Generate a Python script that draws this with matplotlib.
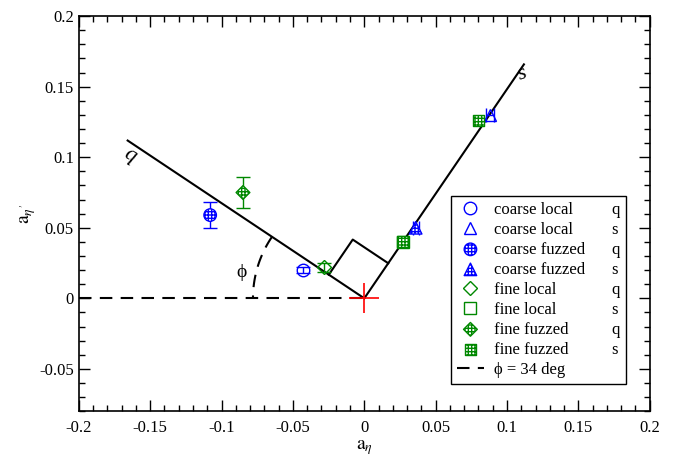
import numpy as np
import matplotlib
matplotlib.use('Agg')
import matplotlib.pyplot as plt
from matplotlib.lines import Line2D

plt.rcParams['font.family'] = ['Liberation Serif', 'DejaVu Serif']
plt.rcParams['mathtext.fontset'] = 'stix'
plt.rcParams['hatch.linewidth'] = 1.0

# mixing angle
phi_deg = 34.0

# data points: (a_eta, a_eta', yerr, xerr)
coarse_local_q = ([-0.043], [0.020], [0.002], None)
coarse_local_s = ([0.088], [0.130], None, [0.003])
coarse_fuzzed_q = ([-0.108], [0.059], [0.0095], None)
coarse_fuzzed_s = ([0.036], [0.050], None, [0.002])
fine_local_q = ([-0.028], [0.022], [0.003], None)
fine_local_s = ([0.027], [0.040], None, None)
fine_fuzzed_q = ([-0.085], [0.075], [0.011], None)
fine_fuzzed_s = ([0.080, 0.027], [0.126, 0.040], None, None)

blue = '#0000ff'
green = '#008800'

fig = plt.figure(figsize=(6.74, 4.61), dpi=100)
ax = fig.add_axes([0.117, 0.108, 0.847, 0.857])

phi = np.radians(phi_deg)
L = 0.2
# q and s axes
ax.plot([0, -L * np.cos(phi)], [0, L * np.sin(phi)], color='black', lw=1.5)
ax.plot([0, L * np.sin(phi)], [0, L * np.cos(phi)], color='black', lw=1.5)

# right angle box
d = 0.03
uq = np.array([-np.cos(phi), np.sin(phi)])
us = np.array([np.sin(phi), np.cos(phi)])
pts = np.array([d * uq, d * uq + d * us, d * us])
ax.plot(pts[:, 0], pts[:, 1], color='black', lw=1.5)

# horizontal dashed line and angle arc
ax.plot([-0.2, 0], [0, 0], color='black', lw=1.5, ls=(0, (6, 4)))
r = 0.078
t = np.linspace(np.pi - phi, np.pi, 50)
ax.plot(r * np.cos(t), r * np.sin(t), color='black', lw=1.5, ls=(0, (6, 4)))
ax.text(-0.086, 0.018, 'ϕ', fontsize=14, ha='center', va='center')
ax.text(-0.164, 0.101, 'q', fontsize=16, style='italic', rotation=-30,
        ha='center', va='center')
ax.text(0.111, 0.159, 's', fontsize=16, style='italic', rotation=20,
        ha='center', va='center')

# origin marker
ax.plot([0], [0], marker='+', color='red', ms=22, mew=1.2, ls='none', zorder=5)

def pt(data, marker, col, ms=9, hatched=False):
    x, y, ye, xe = data
    ax.errorbar(x, y, yerr=ye, xerr=xe, fmt='none', ecolor=col,
                elinewidth=1.0, capsize=5, capthick=1.0)
    if hatched:
        ax.scatter(x, y, s=ms ** 2, marker=marker, facecolor='white',
                   edgecolor=col, linewidth=1.0, hatch='+++++', zorder=3)
    else:
        ax.plot(x, y, marker=marker, mfc='none', mec=col, ms=ms, mew=1.0,
                ls='none', zorder=3)

pt(coarse_local_q, 'o', blue)
pt(coarse_local_s, '^', blue)
pt(coarse_fuzzed_q, 'o', blue, hatched=True)
pt(coarse_fuzzed_s, '^', blue, hatched=True)
pt(fine_local_q, 'D', green, ms=7)
pt(fine_local_s, 's', green, ms=8)
pt(fine_fuzzed_q, 'D', green, ms=7, hatched=True)
pt(fine_fuzzed_s, 's', green, ms=8, hatched=True)

ax.set_xlim(-0.2, 0.2)
ax.set_ylim(-0.08, 0.2)
ax.set_xticks(np.arange(-0.2, 0.201, 0.05))
ax.set_xticklabels(['-0.2', '-0.15', '-0.1', '-0.05', '0', '0.05', '0.1', '0.15', '0.2'])
ax.set_yticks(np.arange(-0.05, 0.201, 0.05))
ax.set_yticklabels(['-0.05', '0', '0.05', '0.1', '0.15', '0.2'])
ax.set_xticks(np.arange(-0.2, 0.201, 0.01), minor=True)
ax.set_yticks(np.arange(-0.08, 0.201, 0.01), minor=True)
ax.tick_params(which='both', direction='in', top=True, right=True, labelsize=12)
ax.tick_params(which='major', length=8, width=1)
ax.tick_params(which='minor', length=4, width=1)
ax.tick_params(axis='x', pad=6)
for sp in ax.spines.values():
    sp.set_linewidth(1.2)

ax.set_xlabel(r'$\mathrm{a}_{\eta}$', fontsize=14, labelpad=2)
ax.set_ylabel(r"$\mathrm{a}_{\eta'}$", fontsize=14, labelpad=1)

def mk(marker, col, ms, hatched=False):
    if hatched:
        return plt.scatter([], [], s=ms ** 2, marker=marker, facecolor='white',
                           edgecolor=col, linewidth=1.0, hatch='+++++')
    return Line2D([], [], marker=marker, mfc='none', mec=col, ms=ms, ls='none', mew=1.0)

blank = Line2D([], [], ls='none')
handles = [mk('o', blue, 9), mk('^', blue, 9),
           mk('o', blue, 9, True), mk('^', blue, 9, True),
           mk('D', green, 7), mk('s', green, 8),
           mk('D', green, 7, True), mk('s', green, 8, True),
           Line2D([], [], color='black', lw=1.5, ls=(0, (6, 4)))]
labels = ['coarse local', 'coarse local', 'coarse fuzzed', 'coarse fuzzed',
          'fine local', 'fine local', 'fine fuzzed', 'fine fuzzed',
          'ϕ = 34 deg']
tags = ['q', 's', 'q', 's', 'q', 's', 'q', 's', '']
leg = ax.legend(handles + [blank] * 9, labels + tags, ncol=2, loc='lower right',
                bbox_to_anchor=(0.958, 0.07), fontsize=12, frameon=True,
                fancybox=False, edgecolor='black', framealpha=1,
                labelspacing=0.24, handlelength=1.6, handletextpad=0.6,
                columnspacing=-0.6, borderpad=0.35, borderaxespad=0,
                scatterpoints=1)
leg.get_frame().set_linewidth(1.0)

fig.savefig('out.png', dpi=100)
